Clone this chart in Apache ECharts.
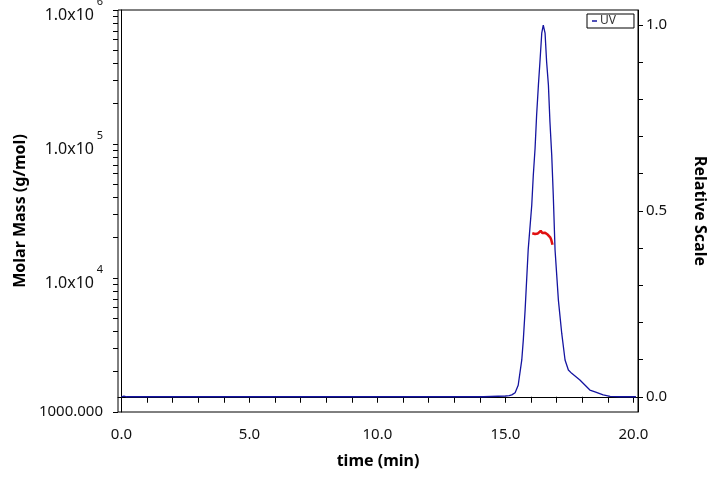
<!DOCTYPE html>
<html>
	<head>
		<meta charset="utf-8">
		<title>Molar Mass / UV</title>
		<script src="https://cdn.jsdelivr.net/npm/echarts@6/dist/echarts.min.js"></script>
		<style>
			body { margin: 0; background: #fff; }
		</style>
	</head>
	<body>
		<div id="main" style="width: 720px;height:479px;"></div>
		<script type="text/javascript">
			// UV trace (time in min, relative scale)
			var uvTime = [0, 0.1, 0.2, 14.15, 14.2, 15.0, 15.15, 15.25, 15.38, 15.5, 15.64, 15.7, 15.77, 15.89, 16.03,
				16.09, 16.16, 16.22, 16.29, 16.35, 16.42, 16.48, 16.55, 16.61, 16.68, 16.74, 16.81, 16.87, 16.94, 17.07,
				17.2, 17.33, 17.46, 17.59, 17.91, 18.3, 18.5, 18.82, 19.09, 19.5, 20.1];
			var uvValue = [0, 0.002, 0, 0, 0.002, 0.002, 0.003, 0.005, 0.011, 0.031, 0.099, 0.153, 0.233, 0.395, 0.516,
				0.596, 0.669, 0.758, 0.839, 0.901, 0.978, 1.0, 0.978, 0.901, 0.839, 0.74, 0.65, 0.543, 0.395, 0.26,
				0.171, 0.099, 0.072, 0.063, 0.045, 0.018, 0.013, 0.005, 0.001, 0, 0];

			// molar mass across the peak (g/mol)
			var mmTime = [16.05, 16.1, 16.16, 16.22, 16.27, 16.33, 16.38, 16.44, 16.5, 16.55, 16.6, 16.66, 16.71, 16.75, 16.79, 16.82, 16.84];
			var mmValue = [21600, 21900, 21300, 21700, 21500, 22100, 22500, 21700, 21400, 21800, 21300, 21000, 20500, 20100, 19300, 18700, 17700];

			var xTicks = [0, 1, 2, 3, 4, 5, 6, 7, 8, 9, 10, 11, 12, 13, 14, 15, 16, 17, 18, 19, 20];
			var xLabels = [0, 5, 10, 15, 20];
			var rightTicks = [0, 0.1, 0.2, 0.3, 0.4, 0.5, 0.6, 0.7, 0.8, 0.9, 1.0];
			var rightLabels = [0, 0.5, 1.0];

			// minor ticks of the log axis, in log10 space
			var logTicks = [];
			for (var d = 3; d < 6; d++) {
				for (var k = 1; k < 10; k++) logTicks.push(d + Math.log10(k));
			}
			logTicks.push(6);

			function zip(a, b) {
				return a.map(function (v, i) { return [v, b[i]]; });
			}

			var myChart = echarts.init(document.getElementById('main'));
			var font = 'Noto Sans';
			myChart.setOption({
				animation: false,
				backgroundColor: '#fff',
				textStyle: { fontFamily: font },
				grid: {
					left: 118, right: 82, top: 10, bottom: 67,
					outerBoundsMode: 'none',
					show: true, borderColor: '#000', borderWidth: 1, backgroundColor: '#fff'
				},
				legend: {
					left: 587, top: 14,
					data: ['UV'],
					icon: 'rect',
					itemWidth: 5, itemHeight: 1.5, itemGap: 4,
					padding: [1, 18, 1, 5],
					borderColor: '#000', borderWidth: 1,
					textStyle: { fontSize: 12, color: '#333', fontFamily: font, padding: [0, 0, 0, -2] }
				},
				xAxis: {
					type: 'value', min: -0.133, max: 20.18,
					name: 'time (min)', nameLocation: 'middle', nameGap: 41,
					nameTextStyle: { fontSize: 16, fontWeight: 'bold', color: '#000' },
					axisLine: { show: true, lineStyle: { color: '#000' } },
					axisTick: { show: true, length: 6, customValues: xTicks, lineStyle: { color: '#000' } },
					axisLabel: {
						customValues: xLabels, fontSize: 15, color: '#111', margin: 15,
						formatter: function (v) { return v.toFixed(1); }
					},
					splitLine: { show: false }
				},
				yAxis: [{
					type: 'log', logBase: 10, min: 1000, max: 1000000, position: 'left',
					name: 'Molar Mass (g/mol)', nameLocation: 'middle', nameGap: 88, nameRotate: 90,
					nameTextStyle: { fontSize: 16, fontWeight: 'bold', color: '#000' },
					axisLine: { show: true, lineStyle: { color: '#000' } },
					axisTick: { show: false },
					axisLabel: {
						fontSize: 15, color: '#111', margin: 15,
						formatter: function (v) {
							if (v <= 1000) return v.toFixed(3);
							// exponent on its own line, pushed to the right of "10"
							return '{s|' + Math.round(Math.log10(v)) + '}\n{m|1.0x10}';
						},
						rich: {
							m: { fontSize: 16, lineHeight: 16, color: '#111', fontFamily: font, padding: [0, 9, 0, 0] },
							s: { fontSize: 11, lineHeight: 10, color: '#111', fontFamily: font, align: 'right' }
						}
					},
					splitLine: { show: false }
				}, {
					type: 'value', min: -0.041, max: 1.0404, position: 'right',
					name: 'Relative Scale', nameLocation: 'middle', nameGap: 54, nameRotate: -90,
					nameTextStyle: { fontSize: 16, fontWeight: 'bold', color: '#000' },
					axisLine: { show: true, lineStyle: { color: '#000' } },
					axisTick: { show: true, length: 5, customValues: rightTicks, lineStyle: { color: '#000' } },
					axisLabel: {
						customValues: rightLabels, fontSize: 15, color: '#111', margin: 8,
						formatter: function (v) { return v.toFixed(1); }
					},
					splitLine: { show: false }
				}, {
					// tick marks only, for the log scale
					type: 'value', min: 3, max: 6, position: 'left',
					axisLine: { show: false },
					axisTick: { show: true, length: 5, customValues: logTicks, lineStyle: { color: '#000' } },
					axisLabel: { show: false },
					splitLine: { show: false }
				}],
				series: [{
					name: 'UV',
					type: 'line',
					yAxisIndex: 1,
					data: zip(uvTime, uvValue),
					showSymbol: false,
					color: '#1414a0',
					lineStyle: { width: 1.3, color: '#1414a0' }
				}, {
					name: 'Molar Mass',
					type: 'line',
					yAxisIndex: 0,
					data: zip(mmTime, mmValue),
					showSymbol: false,
					color: '#e01010',
					lineStyle: { width: 2.5, color: '#e01010' }
				}]
			});
		</script>
	</body>
</html>
